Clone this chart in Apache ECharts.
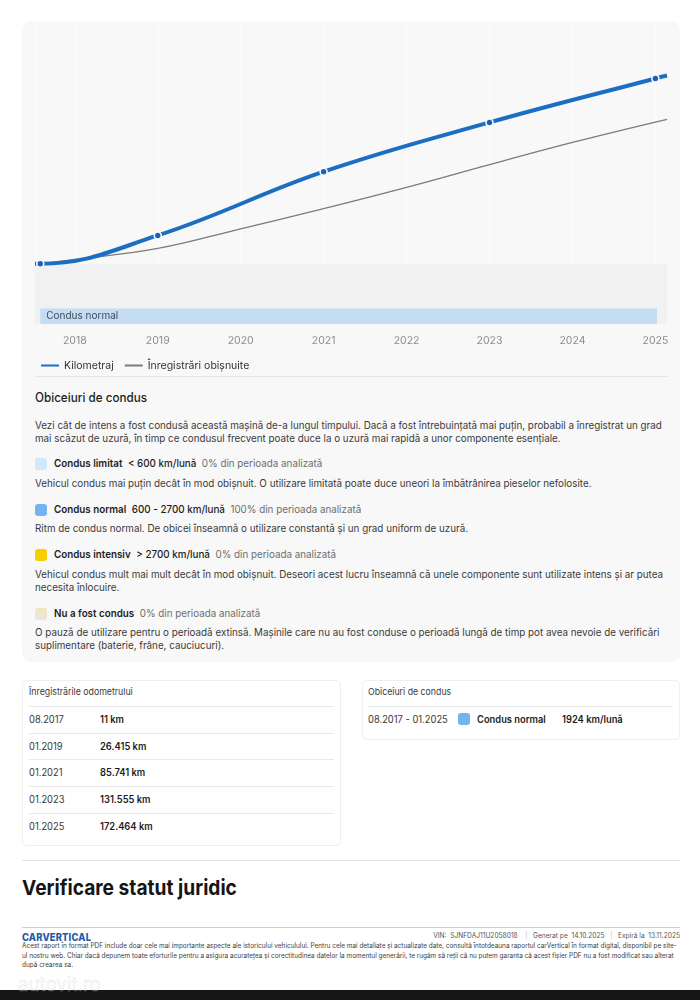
<!DOCTYPE html>
<html><head><meta charset="utf-8">
<script src="https://cdn.jsdelivr.net/npm/echarts@6/dist/echarts.min.js"></script>
<style>
html,body{margin:0;padding:0;background:#fff;width:700px;height:1000px;overflow:hidden;font-family:Inter,"Noto Sans",sans-serif;color:#222}
.a{position:absolute}
.t{position:absolute;white-space:nowrap;line-height:14px;height:14px;transform-origin:0 50%;transform:scaleX(.935);font-size:10.5px;color:#3a3a3a}
.b{font-weight:600;color:#1d1d1d}
.g{color:#6d6d6d}
.sw{position:absolute;width:12px;height:12px;border-radius:3px}
.hl{position:absolute;height:1px;background:#e9e9e9}
.box{position:absolute;background:#fff;border:1px solid #efefef;border-radius:5px;box-sizing:border-box}
</style></head><body>
<div class="a" style="left:22px;top:21px;width:658px;height:641px;background:#f8f8f8;border-radius:9px"></div>
<div class="a" id="chart" style="left:22px;top:21px;width:658px;height:360px"></div>
<div class="hl" style="left:35px;top:376px;width:632px;background:#e4e4e4"></div>

<div class="t b" style="left:35px;top:391px;font-size:12.5px;font-weight:500">Obiceiuri de condus</div>
<div class="t" style="left:35px;top:419px">Vezi cât de intens a fost condusă această mașină de-a lungul timpului. Dacă a fost întrebuințată mai puțin, probabil a înregistrat un grad</div>
<div class="t" style="left:35px;top:432px">mai scăzut de uzură, în timp ce condusul frecvent poate duce la o uzură mai rapidă a unor componente esențiale.</div>

<div class="sw" style="left:35px;top:458px;background:#d2e8fb"></div>
<div class="t" style="left:54px;top:457px"><span class="b">Condus limitat</span>&nbsp;&nbsp;<span class="b" style="font-weight:500">&lt; 600 km/lună</span>&nbsp;&nbsp;<span class="g">0% din perioada analizată</span></div>
<div class="t" style="left:35px;top:477px">Vehicul condus mai puțin decât în mod obișnuit. O utilizare limitată poate duce uneori la îmbătrânirea pieselor nefolosite.</div>

<div class="sw" style="left:35px;top:504px;background:#73b3f2"></div>
<div class="t" style="left:54px;top:503px"><span class="b">Condus normal</span>&nbsp;&nbsp;<span class="b" style="font-weight:500">600 - 2700 km/lună</span>&nbsp;&nbsp;<span class="g">100% din perioada analizată</span></div>
<div class="t" style="left:35px;top:522px">Ritm de condus normal. De obicei înseamnă o utilizare constantă și un grad uniform de uzură.</div>

<div class="sw" style="left:35px;top:549px;background:#f6cf00"></div>
<div class="t" style="left:54px;top:548px"><span class="b">Condus intensiv</span>&nbsp;&nbsp;<span class="b" style="font-weight:500">&gt; 2700 km/lună</span>&nbsp;&nbsp;<span class="g">0% din perioada analizată</span></div>
<div class="t" style="left:35px;top:568px">Vehicul condus mult mai mult decât în mod obișnuit. Deseori acest lucru înseamnă că unele componente sunt utilizate intens și ar putea</div>
<div class="t" style="left:35px;top:581px">necesita înlocuire.</div>

<div class="sw" style="left:35px;top:608px;background:linear-gradient(180deg,#f3e7b4,#e6e6e6)"></div>
<div class="t" style="left:54px;top:607px"><span class="b">Nu a fost condus</span>&nbsp;&nbsp;<span class="g">0% din perioada analizată</span></div>
<div class="t" style="left:35px;top:626px">O pauză de utilizare pentru o perioadă extinsă. Mașinile care nu au fost conduse o perioadă lungă de timp pot avea nevoie de verificări</div>
<div class="t" style="left:35px;top:639px">suplimentare (baterie, frâne, cauciucuri).</div>

<div class="box" style="left:22px;top:680px;width:319px;height:166px"></div>
<div class="t" style="left:29px;top:685px;font-size:9.4px">Înregistrările odometrului</div>
<div id="odo"></div>

<div class="box" style="left:362px;top:680px;width:318px;height:60px"></div>
<div class="t" style="left:368px;top:685px;font-size:9.4px">Obiceiuri de condus</div>
<div class="hl" style="left:368px;top:706px;width:305px"></div>
<div id="habit"></div>

<div class="hl" style="left:22px;top:860px;width:658px;background:#e2e2e2"></div>
<div class="t b" style="left:22px;top:876px;height:24px;line-height:24px;font-size:20.5px;font-weight:700;color:#151515">Verificare statut juridic</div>

<div class="hl" style="left:22px;top:927px;width:658px;background:#cfcfcf"></div>
<div class="t" style="left:22px;top:929.5px;font-size:10px;font-weight:800;color:#1f5aa8;letter-spacing:.2px">CARVERTICAL</div>
<div class="t" style="left:auto;right:20px;top:929px;font-size:7.1px;color:#555;transform-origin:100% 50%">VIN:&nbsp; SJNFDAJ11U2058018 &nbsp;&nbsp;&nbsp;<span style="color:#bbb">|</span>&nbsp;&nbsp; Generat pe&nbsp; 14.10.2025 &nbsp;&nbsp;<span style="color:#bbb">|</span>&nbsp;&nbsp; Expiră la&nbsp; 13.11.2025</div>
<div class="t" style="left:22px;top:941px;font-size:6.9px;line-height:10px;height:10px;color:#3d3d3d">Acest raport în format PDF include doar cele mai importante aspecte ale istoricului vehiculului. Pentru cele mai detaliate și actualizate date, consultă întotdeauna raportul carVertical în format digital, disponibil pe site-</div>
<div class="t" style="left:22px;top:950.5px;font-size:6.9px;line-height:10px;height:10px;color:#3d3d3d">ul nostru web. Chiar dacă depunem toate eforturile pentru a asigura acuratețea și corectitudinea datelor la momentul generării, te rugăm să reții că nu putem garanta că acest fișier PDF nu a fost modificat sau alterat</div>
<div class="t" style="left:22px;top:960px;font-size:6.9px;line-height:10px;height:10px;color:#3d3d3d">după crearea sa.</div>

<div class="a" style="left:0;top:990px;width:700px;height:10px;background:#161616"></div>
<div class="t" style="left:18px;top:974px;height:20px;line-height:20px;font-size:20px;color:rgba(255,255,255,.2);-webkit-text-stroke:0.6px rgba(200,200,200,.45)">autovit.ro</div>

<script>
// ---- data ----
const odoDates = ['08.2017', '01.2019', '01.2021', '01.2023', '01.2025'];
const odoKm = [11, 26415, 85741, 131555, 172464];
// mileage line continues to the plot edges
const lineStart = [2017.52, 11];
const lineEnd = [2025.14, 175200];
// usual (average) records line
const usualYears = [2017.58, 2018, 2019, 2020, 2021, 2022, 2023, 2024, 2025.14];
const usualKm = [11, 4000, 14300, 32600, 51300, 71100, 92300, 113000, 134500];
const yearTicks = [2018, 2019, 2020, 2021, 2022, 2023, 2024, 2025];
const periodStart = '08.2017';
const periodEnd = '01.2025';
const periodLabel = 'Condus normal';
const periodAvg = 1924;
const seriesNames = ['Kilometraj', 'Înregistrări obișnuite'];

const toYear = s => { const p = s.split('.'); return +p[1] + (+p[0] - 1) / 12; };
const fmt = n => n.toLocaleString('de-DE');

// ---- tables ----
(function () {
  let h = '';
  const rowY = [719, 746, 772, 799, 826];
  odoDates.forEach((d, i) => {
    const y = rowY[i];
    h += '<div class="hl" style="left:29px;top:' + (y - 13) + 'px;width:305px"></div>';
    h += '<div class="t" style="left:29px;top:' + (y - 7) + 'px;font-size:10px">' + d + '</div>';
    h += '<div class="t b" style="left:100px;top:' + (y - 7) + 'px;font-size:10px">' + fmt(odoKm[i]) + ' km</div>';
  });
  document.getElementById('odo').innerHTML = h;
  document.getElementById('habit').innerHTML =
    '<div class="t" style="left:368px;top:712px;font-size:10px">' + periodStart + ' - ' + periodEnd + '</div>' +
    '<div class="sw" style="left:458px;top:713px;background:#73b3f2"></div>' +
    '<div class="t b" style="left:477px;top:712px;font-size:10px">' + periodLabel + '</div>' +
    '<div class="t b" style="left:562px;top:712px;font-size:10px">' + periodAvg + ' km/lună</div>';
})();

// ---- chart ----
const yMin = -56000, yMax = 225000;
const blueData = [{ value: lineStart, symbol: 'none' }]
  .concat(odoDates.map((d, i) => ({ value: [toYear(d), odoKm[i]], symbol: 'circle' })))
  .concat([{ value: lineEnd, symbol: 'none' }]);
const grayData = usualYears.map((x, i) => [x, usualKm[i]]);

const chart = echarts.init(document.getElementById('chart'), null, { renderer: 'canvas' });
chart.setOption({
  animation: false,
  grid: { left: 13, right: 13, top: 1, bottom: 57 },
  xAxis: {
    type: 'value', min: lineStart[0], max: lineEnd[0],
    axisLine: { show: false }, axisTick: { show: false }, splitLine: { show: false },
    axisLabel: {
      customValues: yearTicks, formatter: v => String(v),
      color: '#8c8c8c', fontSize: 10.5, margin: 11, fontFamily: 'Inter'
    }
  },
  yAxis: { type: 'value', min: yMin, max: yMax, show: false, splitLine: { show: false } },
  legend: {
    data: seriesNames, left: 13, top: 334, itemWidth: 18, itemHeight: 10, itemGap: 10,
    itemStyle: { opacity: 0 },
    textStyle: { color: '#333', fontSize: 10.5, fontFamily: 'Inter' }
  },
  series: [
    {
      // background bands and vertical year guides (drawn behind the lines)
      name: 'bg', type: 'line', data: [], z: 1, silent: true,
      markArea: {
        silent: true,
        data: [
          [{ yAxis: yMin, itemStyle: { color: '#f1f1f1' } }, { yAxis: 0 }],
          [{
            xAxis: toYear(periodStart), yAxis: yMin, name: periodLabel,
            itemStyle: { color: '#c4ddf5' },
            label: { show: true, position: 'insideLeft', color: '#3e4b58', fontSize: 10, fontFamily: 'Inter', distance: 6 }
          }, { xAxis: toYear(periodEnd) + 0.02, yAxis: -41500 }]
        ]
      },
      markLine: {
        silent: true, symbol: ['none', 'none'], label: { show: false },
        lineStyle: { color: '#fdfdfd', width: 1.2, type: 'solid', opacity: 1 },
        data: [lineStart[0]].concat(yearTicks).map(x => [{ coord: [x, 0] }, { coord: [x, yMax] }])
      }
    },
    {
      name: seriesNames[1], type: 'line', data: grayData, smooth: 0.4, symbol: 'none',
      lineStyle: { color: '#7b7b7b', width: 1.3 }, itemStyle: { color: '#7b7b7b' }, z: 5
    },
    {
      name: seriesNames[0], type: 'line', data: blueData, smooth: 0.4,
      symbol: 'none', showSymbol: true, symbolSize: 7,
      lineStyle: { color: '#1b6ec2', width: 4 },
      itemStyle: { color: '#1a62b0', borderColor: '#f8f8f8', borderWidth: 1.6 }, z: 10
    }
  ]
});
</script>
</body></html>
